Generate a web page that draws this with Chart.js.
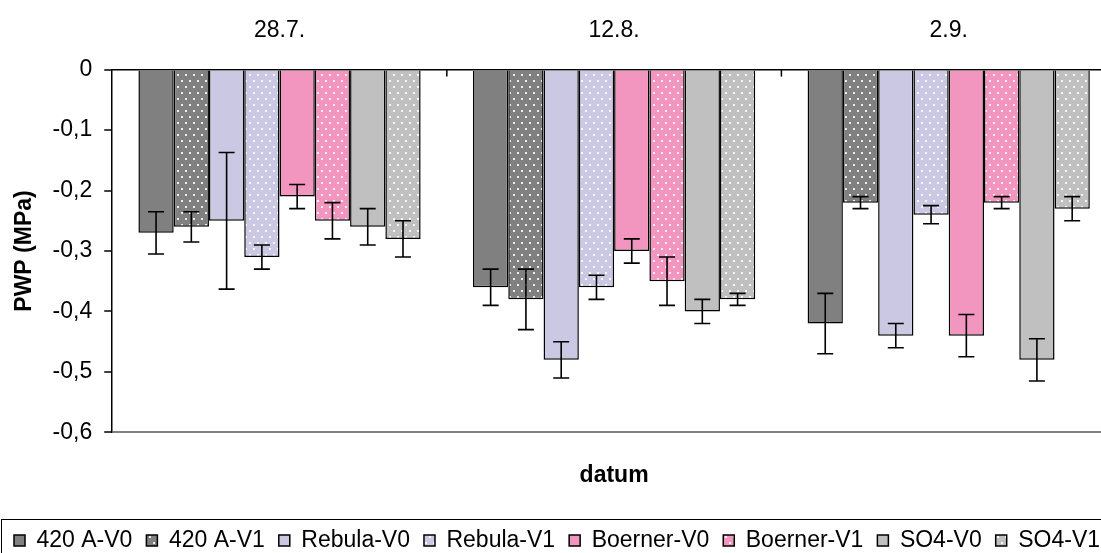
<!DOCTYPE html>
<html>
<head>
<meta charset="utf-8">
<title>PWP (MPa)</title>
<script src="https://cdn.jsdelivr.net/npm/chart.js@4/dist/chart.umd.min.js"></script>
<style>
  html, body { margin: 0; padding: 0; background: #fff; overflow: hidden; }
  #wrap { width: 1101px; height: 553px; overflow: hidden; position: relative; }
  #c { position: absolute; left: 0; top: -24px; }
</style>
</head>
<body>
<div id="wrap"><canvas id="c" width="1150" height="624"></canvas></div>
<script>
// Sampling dates (category axis)
const dates = ['28.7.', '12.8.', '2.9.'];

// Mean pre-dawn water potential per variety / treatment, MPa
const a420V0    = [-0.27, -0.36, -0.42];
const a420V1    = [-0.26, -0.38, -0.22];
const rebulaV0  = [-0.25, -0.48, -0.44];
const rebulaV1  = [-0.31, -0.36, -0.24];
const boernerV0 = [-0.21, -0.30, -0.44];
const boernerV1 = [-0.25, -0.35, -0.22];
const so4V0     = [-0.26, -0.40, -0.48];
const so4V1     = [-0.28, -0.38, -0.23];

// Standard errors (half-length of the error bars)
const a420V0Err    = [0.035, 0.03, 0.05];
const a420V1Err    = [0.025, 0.05, 0.01];
const rebulaV0Err  = [0.113, 0.03, 0.02];
const rebulaV1Err  = [0.02, 0.02, 0.015];
const boernerV0Err = [0.02, 0.02, 0.035];
const boernerV1Err = [0.03, 0.04, 0.01];
const so4V0Err     = [0.03, 0.02, 0.035];
const so4V1Err     = [0.03, 0.01, 0.02];

// Value axis ticks and their printed labels
const yTickValues = [0, -0.1, -0.2, -0.3, -0.4, -0.5, -0.6];
const yTickLabels = ['0', '-0,1', '-0,2', '-0,3', '-0,4', '-0,5', '-0,6'];

const FONT = "'Liberation Sans', Arial, sans-serif";

// Solid fill with a staggered grid of small white dots (used for the V1 series)
function dotted(color) {
  const t = document.createElement('canvas');
  t.width = 8; t.height = 12;
  const g = t.getContext('2d');
  g.fillStyle = color;
  g.fillRect(0, 0, 8, 12);
  g.fillStyle = 'rgba(255,255,255,0.85)';
  g.fillRect(1, 2, 2, 2);
  g.fillRect(5, 8, 2, 2);
  return g.createPattern(t, 'repeat');
}

const C420 = '#808080', CREB = '#CBC8E4', CBOE = '#F296C0', CSO4 = '#C0C0C0';

const series = [
  { label: '420 A-V0',   data: a420V0,    err: a420V0Err,    bg: C420 },
  { label: '420 A-V1',   data: a420V1,    err: a420V1Err,    bg: dotted(C420) },
  { label: 'Rebula-V0',  data: rebulaV0,  err: rebulaV0Err,  bg: CREB },
  { label: 'Rebula-V1',  data: rebulaV1,  err: rebulaV1Err,  bg: dotted(CREB) },
  { label: 'Boerner-V0', data: boernerV0, err: boernerV0Err, bg: CBOE },
  { label: 'Boerner-V1', data: boernerV1, err: boernerV1Err, bg: dotted(CBOE) },
  { label: 'SO4-V0',     data: so4V0,     err: so4V0Err,     bg: CSO4 },
  { label: 'SO4-V1',     data: so4V1,     err: so4V1Err,     bg: dotted(CSO4) }
];

// Vertical error bars with flat caps
const errorBars = {
  id: 'errorBars',
  afterDatasetsDraw(chart) {
    const ctx = chart.ctx;
    const y = chart.scales.y;
    ctx.save();
    ctx.strokeStyle = '#000';
    ctx.lineWidth = 1.6;
    chart.data.datasets.forEach((ds, di) => {
      const meta = chart.getDatasetMeta(di);
      meta.data.forEach((bar, i) => {
        const v = ds.data[i], e = ds.errors[i];
        const yHi = y.getPixelForValue(v + e);
        const yLo = y.getPixelForValue(v - e);
        const x = bar.x, cap = 8;
        ctx.beginPath();
        ctx.moveTo(x, yHi); ctx.lineTo(x, yLo);
        ctx.moveTo(x - cap, yHi); ctx.lineTo(x + cap, yHi);
        ctx.moveTo(x - cap, yLo); ctx.lineTo(x + cap, yLo);
        ctx.stroke();
      });
    });
    ctx.restore();
  }
};

// Inward tick marks between the date groups, and the frame around the legend
const decorations = {
  id: 'decorations',
  afterDraw(chart) {
    const ctx = chart.ctx;
    const x = chart.scales.x;
    const top = chart.chartArea.top;
    const step = x.getPixelForValue(1) - x.getPixelForValue(0);
    ctx.save();
    ctx.strokeStyle = '#000';
    ctx.lineWidth = 1.5;
    for (let i = 0; i < dates.length; i++) {
      const px = x.getPixelForValue(i) + step / 2;
      ctx.beginPath();
      ctx.moveTo(px, top);
      ctx.lineTo(px, top + 7);
      ctx.stroke();
    }
    const hb = chart.legend.legendHitBoxes[0];
    if (hb) {
      const boxTop = Math.round(hb.top + hb.height / 2 - 22) + 0.5;
      ctx.lineWidth = 1;
      ctx.strokeStyle = '#000';
      ctx.strokeRect(1.5, boxTop, chart.width + 10, 200);
    }
    ctx.restore();
  }
};

new Chart(document.getElementById('c'), {
  type: 'bar',
  data: {
    labels: dates,
    datasets: series.map(s => ({
      label: s.label,
      data: s.data,
      errors: s.err,
      backgroundColor: s.bg,
      borderColor: '#000',
      borderWidth: 1.5,
      categoryPercentage: 0.8435,
      barPercentage: 1
    }))
  },
  options: {
    responsive: false,
    animation: false,
    layout: { padding: { left: 0, right: 34, top: 16, bottom: 38 } },
    plugins: {
      legend: {
        position: 'bottom',
        align: 'start',
        labels: {
          font: { family: FONT, size: 23 },
          color: '#000',
          boxWidth: 11,
          boxHeight: 11,
          padding: 14
        }
      },
      tooltip: { enabled: false }
    },
    scales: {
      x: {
        position: 'top',
        offset: true,
        grid: { display: false, drawTicks: false },
        border: { color: '#000', width: 1.5 },
        ticks: { font: { family: FONT, size: 23 }, color: '#000', padding: 25 }
      },
      xTitle: {
        type: 'category',
        labels: dates,
        position: 'bottom',
        grid: { display: false, drawTicks: false },
        border: { display: false },
        ticks: { display: false },
        title: {
          display: true,
          text: 'datum',
          color: '#000',
          font: { family: FONT, size: 23, weight: 'bold' },
          padding: { top: 29, bottom: 26 }
        }
      },
      y: {
        min: -0.6,
        max: 0,
        afterBuildTicks(axis) { axis.ticks = yTickValues.slice().reverse().map(v => ({ value: v })); },
        ticks: {
          font: { family: FONT, size: 23 },
          color: '#000',
          padding: 12,
          callback(value) {
            const k = yTickValues.findIndex(t => Math.abs(t - value) < 1e-9);
            return k >= 0 ? yTickLabels[k] : '';
          }
        },
        grid: {
          color: ctx => (ctx.tick && Math.abs(ctx.tick.value + 0.6) < 1e-9) ? '#808080' : 'rgba(0,0,0,0)',
          lineWidth: 2,
          tickLength: 8,
          tickColor: '#000',
          tickWidth: 1.5
        },
        border: { color: '#000', width: 1.5 },
        title: {
          display: true,
          text: 'PWP (MPa)',
          color: '#000',
          font: { family: FONT, size: 23, weight: 'bold' },
          padding: { top: 11, bottom: 2 }
        }
      }
    }
  },
  plugins: [errorBars, decorations]
});
</script>
</body>
</html>
